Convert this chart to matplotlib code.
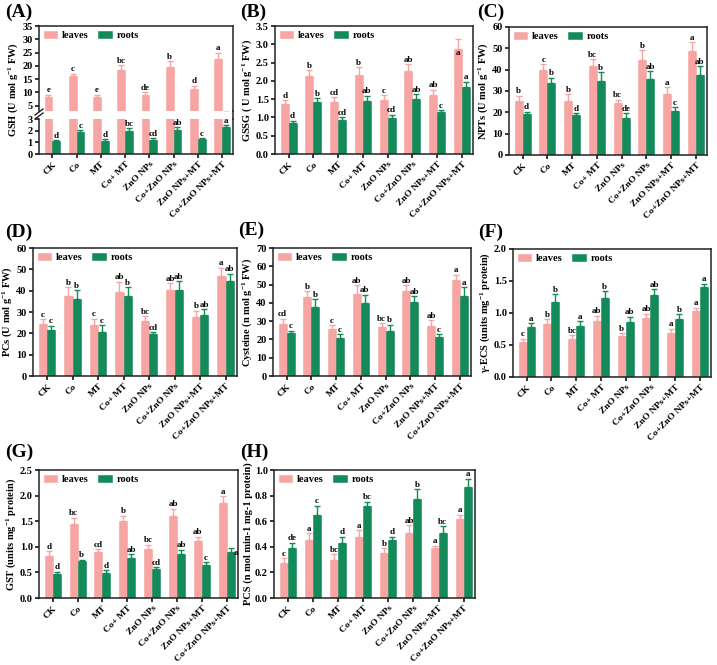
import numpy as np
import matplotlib
matplotlib.use('Agg')
import matplotlib.pyplot as plt
from matplotlib.lines import Line2D

plt.rcParams['font.family'] = 'Liberation Serif'
plt.rcParams['font.weight'] = 'bold'
plt.rcParams['axes.labelweight'] = 'bold'
plt.rcParams['axes.linewidth'] = 1.1
plt.rcParams['xtick.major.width'] = 1.1
plt.rcParams['ytick.major.width'] = 1.1
plt.rcParams['xtick.major.size'] = 3
plt.rcParams['ytick.major.size'] = 3
plt.rcParams['mathtext.fontset'] = 'custom'
plt.rcParams['mathtext.rm'] = 'Liberation Serif:bold'
plt.rcParams['mathtext.bf'] = 'Liberation Serif:bold'
plt.rcParams['mathtext.it'] = 'Liberation Serif:bold:italic'

# traitements
categories = ['CK', 'Co', 'MT', 'Co+ MT', 'ZnO NPs', 'Co+ZnO NPs', 'ZnO NPs+MT', 'Co+ZnO NPs+MT']

# (A) GSH
gsh_leaves = [8.3, 16.0, 8.4, 18.3, 9.1, 19.5, 11.2, 22.6]
gsh_leaves_err = [0.8, 1.0, 0.7, 2.0, 1.0, 2.2, 1.3, 2.3]
gsh_roots = [1.10, 1.90, 1.15, 2.00, 1.20, 2.10, 1.28, 2.28]
gsh_roots_err = [0.10, 0.15, 0.15, 0.20, 0.15, 0.20, 0.10, 0.20]
gsh_leaves_let = ['e', 'c', 'e', 'bc', 'de', 'b', 'd', 'a']
gsh_roots_let = ['d', 'c', 'd', 'bc', 'cd', 'ab', 'c', 'a']

# (B) GSSG
gssg_leaves = [1.37, 2.12, 1.43, 2.17, 1.48, 2.28, 1.62, 2.88]
gssg_leaves_err = [0.10, 0.17, 0.12, 0.20, 0.12, 0.18, 0.13, 0.26]
gssg_roots = [0.86, 1.41, 0.93, 1.46, 0.98, 1.51, 1.15, 1.83]
gssg_roots_err = [0.05, 0.12, 0.07, 0.13, 0.10, 0.12, 0.05, 0.14]
gssg_leaves_let = ['d', 'b', 'cd', 'b', 'c', 'ab', 'ab', 'a']
gssg_roots_let = ['d', 'b', 'cd', 'ab', 'cd', 'ab', 'c', 'a']

# (C) NPTs
npt_leaves = [25.5, 39.7, 25.5, 41.8, 24.5, 44.5, 28.6, 48.7]
npt_leaves_err = [2.3, 2.8, 3.0, 3.0, 1.3, 4.5, 3.2, 4.1]
npt_roots = [19.0, 33.8, 18.6, 34.8, 17.5, 35.6, 20.6, 37.5]
npt_roots_err = [1.3, 2.3, 1.0, 4.0, 2.0, 3.6, 1.8, 4.2]
npt_leaves_let = ['b', 'c', 'b', 'bc', 'bc', 'b', 'a', 'a']
npt_roots_let = ['d', 'b', 'd', 'b', 'de', 'ab', 'c', 'ab']

# (D) PCs
pcs_leaves = [24.5, 37.5, 24.0, 39.3, 25.6, 40.2, 27.5, 46.8]
pcs_leaves_err = [2.0, 4.0, 2.8, 4.8, 2.5, 3.2, 3.0, 4.0]
pcs_roots = [21.6, 36.3, 20.5, 37.4, 19.6, 40.4, 28.4, 44.5]
pcs_roots_err = [2.0, 4.0, 3.2, 4.3, 1.0, 4.0, 3.0, 3.5]
pcs_leaves_let = ['c', 'b', 'c', 'ab', 'bc', 'ab', 'b', 'a']
pcs_roots_let = ['c', 'b', 'c', 'b', 'cd', 'ab', 'ab', 'ab']

# (E) Cysteine
cys_leaves = [28.2, 43.3, 25.7, 44.7, 26.6, 46.3, 27.5, 52.5]
cys_leaves_err = [3.0, 3.0, 2.0, 5.0, 2.3, 3.4, 3.0, 3.0]
cys_roots = [23.5, 37.6, 20.6, 40.0, 24.5, 40.5, 21.2, 44.0]
cys_roots_err = [1.3, 4.3, 2.3, 4.5, 3.6, 3.0, 1.5, 4.5]
cys_leaves_let = ['cd', 'b', 'c', 'ab', 'bc', 'ab', 'ab', 'a']
cys_roots_let = ['c', 'b', 'c', 'ab', 'b', 'ab', 'c', 'a']

# (F) gamma-ECS
ecs_leaves = [0.54, 0.83, 0.59, 0.87, 0.64, 0.92, 0.69, 1.03]
ecs_leaves_err = [0.06, 0.07, 0.06, 0.09, 0.04, 0.07, 0.06, 0.05]
ecs_roots = [0.78, 1.17, 0.79, 1.23, 0.86, 1.28, 0.90, 1.41]
ecs_roots_err = [0.06, 0.12, 0.08, 0.11, 0.08, 0.09, 0.08, 0.05]
ecs_leaves_let = ['c', 'b', 'bc', 'ab', 'b', 'ab', 'a', 'a']
ecs_roots_let = ['a', 'b', 'a', 'b', 'ab', 'ab', 'b', 'a']

# (G) GST
gst_leaves = [0.83, 1.45, 0.89, 1.50, 0.95, 1.61, 1.12, 1.85]
gst_leaves_err = [0.08, 0.12, 0.06, 0.11, 0.09, 0.13, 0.08, 0.14]
gst_roots = [0.47, 0.72, 0.49, 0.78, 0.57, 0.85, 0.64, 0.89]
gst_roots_err = [0.04, 0.03, 0.05, 0.07, 0.03, 0.09, 0.06, 0.09]
gst_leaves_let = ['d', 'bc', 'cd', 'b', 'bc', 'ab', 'ab', 'a']
gst_roots_let = ['d', 'b', 'd', 'ab', 'cd', 'ab', 'c', 'a']

# (H) PCS
pcs2_leaves = [0.27, 0.455, 0.295, 0.48, 0.35, 0.51, 0.39, 0.62]
pcs2_leaves_err = [0.04, 0.05, 0.045, 0.05, 0.04, 0.06, 0.02, 0.03]
pcs2_roots = [0.39, 0.65, 0.43, 0.72, 0.45, 0.77, 0.51, 0.87]
pcs2_roots_err = [0.04, 0.07, 0.05, 0.03, 0.03, 0.08, 0.05, 0.06]
pcs2_leaves_let = ['c', 'a', 'bc', 'a', 'b', 'ab', 'a', 'a']
pcs2_roots_let = ['de', 'c', 'd', 'bc', 'd', 'b', 'bc', 'a']

C_LEAF = '#f7a5a3'
C_ROOT = '#14895a'
W = 0.32
FW, FH = 717, 665

fig = plt.figure(figsize=(FW / 100, FH / 100), dpi=100)


def px_axes(l, t, r, b):  # position en pixels -> coordonnées figure
    return fig.add_axes([l / FW, 1 - b / FH, (r - l) / FW, (b - t) / FH])


def bars(ax, vals, errs, color, shift):
    x = np.arange(len(categories)) + shift
    bc = ax.bar(x, vals, W, color=color, edgecolor=color, linewidth=0.4, zorder=2)
    ax.errorbar(x, vals, yerr=[np.zeros(len(vals)), errs], fmt='none', ecolor=color,
                elinewidth=1.0, capsize=2, capthick=1.0, zorder=3)
    return x, bc


def letters(ax, x, vals, errs, labs, pad):
    for xi, v, e, l in zip(x, vals, errs, labs):
        ax.text(xi, v + e + pad, l, ha='center', va='bottom', fontsize=6.5, fontweight='bold', zorder=5)


def style(ax, ymax, step, show_x=True):
    ax.set_xlim(-0.55, 7.45)
    ax.set_ylim(0, ymax)
    ax.set_yticks(np.arange(0, ymax + step / 2, step))
    ax.tick_params(axis='both', labelsize=7.5, direction='out', pad=1.5)
    ax.set_xticks(np.arange(len(categories)))
    if show_x:
        ax.set_xticklabels(categories, rotation=45, ha='right', rotation_mode='anchor', fontsize=6.8)
    for s in ax.spines.values():
        s.set_color('#222222')


def legend(ax, handles):
    ax.legend(handles, ['leaves', 'roots'], loc='upper left', ncol=2, frameon=False,
              handlelength=1.3, handleheight=0.65, columnspacing=0.9, borderaxespad=0.25,
              borderpad=0.2, handletextpad=0.45, prop={'weight': 'bold', 'size': 7.5})


def panel(pos, leaves, leaves_err, roots, roots_err, let_l, let_r, ymax, step, ylabel, fmt, lab, labpos):
    ax = px_axes(*pos)
    xl, hl = bars(ax, leaves, leaves_err, C_LEAF, -W / 2)
    xr, hr = bars(ax, roots, roots_err, C_ROOT, W / 2)
    legend(ax, [hl, hr])
    pad = ymax * 0.004
    letters(ax, xl, leaves, leaves_err, let_l, pad)
    letters(ax, xr, roots, roots_err, let_r, pad)
    style(ax, ymax, step)
    ax.yaxis.set_major_formatter(plt.FormatStrFormatter(fmt))
    ax.set_ylabel(ylabel, fontsize=7.5, labelpad=1.5)
    fig.text(labpos[0] / FW, 1 - labpos[1] / FH, lab, fontsize=14, fontweight='bold', va='center')
    return ax


# ---- (A) GSH avec axe coupé ----
ax_top = px_axes(39, 26, 233, 111)
ax_bot = px_axes(39, 119, 233, 154)
for ax in (ax_top, ax_bot):
    xl, hl = bars(ax, gsh_leaves, gsh_leaves_err, C_LEAF, -W / 2)
    xr, hr = bars(ax, gsh_roots, gsh_roots_err, C_ROOT, W / 2)
style(ax_top, 35, 5, show_x=False)
ax_top.set_ylim(3, 35)
ax_top.set_yticks(np.arange(5, 36, 5))
ax_top.tick_params(axis='x', bottom=False, labelbottom=False)
ax_top.spines['bottom'].set_visible(False)
style(ax_bot, 3, 1)
ax_bot.spines['top'].set_visible(False)
legend(ax_top, [hl, hr])
letters(ax_top, xl, gsh_leaves, gsh_leaves_err, gsh_leaves_let, 0.15)
letters(ax_bot, xr, gsh_roots, gsh_roots_err, gsh_roots_let, 0.02)
# bord droit continu + marques de coupure
fig.add_artist(Line2D([233 / FW, 233 / FW], [1 - 111 / FH, 1 - 119 / FH], color='#222222', lw=1.1))
for yy in (112, 116):
    fig.add_artist(Line2D([35 / FW, 43 / FW], [1 - (yy + 3) / FH, 1 - (yy - 3) / FH], color='#222222', lw=1.0))
fig.text(13 / FW, 1 - 90 / FH, 'GSH (U mol g$^{-1}$ FW)', rotation=90, fontsize=7.5,
         fontweight='bold', ha='center', va='center')
fig.text(5 / FW, 1 - 12 / FH, '(A)', fontsize=14, fontweight='bold', va='center')

# ---- autres panneaux ----
axB = panel((275, 26, 473, 154), gssg_leaves, gssg_leaves_err, gssg_roots, gssg_roots_err,
            gssg_leaves_let, gssg_roots_let, 3.5, 0.5, 'GSSG ( U mol g$^{-1}$ FW)', '%.1f', '(B)', (240, 12))
axC = panel((509, 27, 707, 155), npt_leaves, npt_leaves_err, npt_roots, npt_roots_err,
            npt_leaves_let, npt_roots_let, 60, 10, 'NPTs (U mol g$^{-1}$ FW)', '%d', '(C)', (477, 12))
axD = panel((33, 248, 237, 376), pcs_leaves, pcs_leaves_err, pcs_roots, pcs_roots_err,
            pcs_leaves_let, pcs_roots_let, 60, 10, 'PCs (U mol g$^{-1}$ FW)', '%d', '(D)', (5, 232))
axE = panel((273, 248, 471, 376), cys_leaves, cys_leaves_err, cys_roots, cys_roots_err,
            cys_leaves_let, cys_roots_let, 70, 10, 'Cysteine (n mol g$^{-1}$ FW)', '%d', '(E)', (238, 230))
axF = panel((513, 249, 711, 377), ecs_leaves, ecs_leaves_err, ecs_roots, ecs_roots_err,
            ecs_leaves_let, ecs_roots_let, 2.0, 0.5, 'γ-ECS (units mg$^{-1}$ protein)', '%.1f', '(F)', (478, 232))
axG = panel((39, 470, 238, 598), gst_leaves, gst_leaves_err, gst_roots, gst_roots_err,
            gst_leaves_let, gst_roots_let, 2.5, 0.5, 'GST (units mg$^{-1}$ protein)', '%.1f', '(G)', (5, 452))
axH = panel((274, 470, 475, 598), pcs2_leaves, pcs2_leaves_err, pcs2_roots, pcs2_roots_err,
            pcs2_leaves_let, pcs2_roots_let, 1.0, 0.2, 'PCS (n mol min-1 mg-1 protein)', '%.1f', '(H)', (240, 452))

# lettres placées autrement dans l'original
axB.texts[7].set_y(2.66)          # 'a' dans la barre feuilles Co+ZnO NPs+MT
axG.texts[15].set_x(7.36)         # 'a' à droite de la barre racines
axG.texts[15].set_y(0.80)

fig.savefig('out.png', dpi=100)
